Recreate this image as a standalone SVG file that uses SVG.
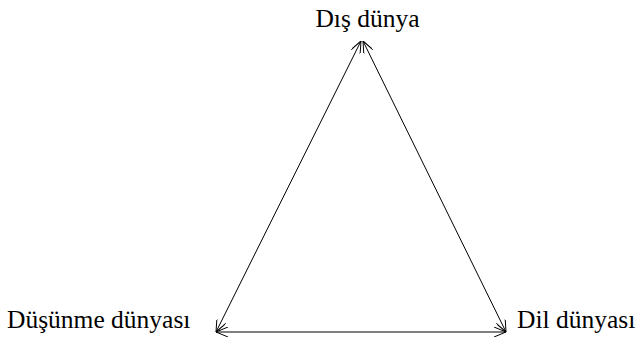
<svg xmlns="http://www.w3.org/2000/svg" width="641" height="339" viewBox="0 0 641 339">
<style>
.t{font-family:"Liberation Serif","Times New Roman",serif;font-size:25.5px;fill:#000}
.e{stroke:#000;stroke-width:1;fill:none;marker-start:url(#a);marker-end:url(#a)}
</style>
<defs>
<marker id="a" viewBox="0 0 12 10" refX="12" refY="5" markerWidth="12" markerHeight="10" markerUnits="userSpaceOnUse" orient="auto-start-reverse">
<path d="M0,0 L12,5 L0,10" fill="none" stroke="#000" stroke-width="1"/>
</marker>
</defs>
<rect width="641" height="339" fill="#fff"/>
<g id="connectors">
<line class="e" x1="361" y1="41" x2="216" y2="332"/>
<line class="e" x1="363" y1="41" x2="506" y2="332"/>
<line class="e" x1="216" y1="332" x2="506" y2="332"/>
</g>
<g id="dis"><text class="t" x="367.5" y="26.5" text-anchor="middle">Dış dünya</text></g>
<g id="dusunme"><text class="t" x="7" y="327.5">Düşünme dünyası</text></g>
<g id="dil"><text class="t" x="517" y="327.5">Dil dünyası</text></g>
</svg>
